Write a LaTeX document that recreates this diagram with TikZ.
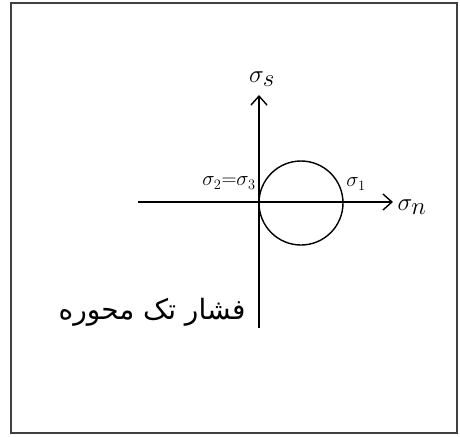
\documentclass[tikz,border=0pt]{standalone}
\usepackage{fontspec}
\usetikzlibrary{arrows.meta}
\newfontfamily\arabicfont[Script=Arabic]{DejaVu Sans}
\TeXXeTstate=1
\begin{document}
\begin{tikzpicture}[x=1pt,y=-1pt,
  axisline/.style={line width=1.4pt,-{Straight Barb[length=9pt,width=16pt,line width=1.4pt]}},
  plainline/.style={line width=1.4pt},
  lbl/.style={inner sep=0pt,font=\fontsize{27}{30}\selectfont},
  slbl/.style={inner sep=0pt,font=\fontsize{21}{24}\selectfont}]
\useasboundingbox (0,0) rectangle (460,436);
\draw[line width=1.2pt,draw=black!75] (11,3) rectangle (457,433);
\coordinate (xl) at (138,202);
\coordinate (xr) at (393,202);
\coordinate (yb) at (259,328);
\coordinate (yt) at (259,95);
\draw[axisline] (xl) -- (xr);
\draw[axisline] (yb) -- (yt);
\node[plainline,draw,circle,minimum size=84pt,inner sep=0pt] (c) at (301,203) {};
\node[lbl] (ss) at (262,79) {$\sigma_{\textstyle s}$};
\node[lbl] (sn) at (412,207) {$\sigma_{\textstyle n}$};
\node[slbl] (s1) at (356,184) {$\sigma_1$};
\node[slbl] (s23) at (229,183) {$\sigma_2{=}\sigma_3$};
\node[inner sep=0pt,font=\arabicfont\fontsize{28}{30}\selectfont] (fa) at (152,312) {\beginR فشار تک محوره\endR};
\end{tikzpicture}
\end{document}
